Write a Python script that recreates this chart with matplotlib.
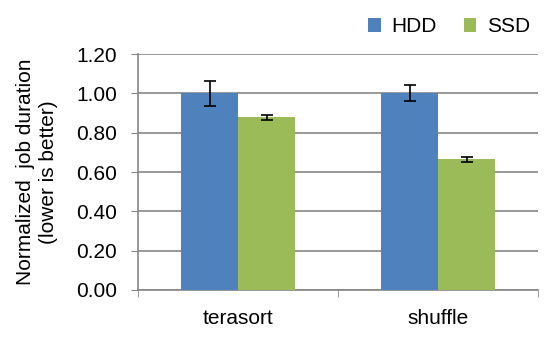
import matplotlib
matplotlib.use("Agg")
import matplotlib.pyplot as plt
import numpy as np

categories = ["terasort", "shuffle"]
hdd = [1.00, 1.00]
hdd_err = [0.065, 0.04]
ssd = [0.878, 0.665]
ssd_err = [0.013, 0.012]
yticks = [0.0, 0.2, 0.4, 0.6, 0.8, 1.0, 1.2]

plt.rcParams['font.family'] = ['Liberation Sans', 'DejaVu Sans']
FS = 15

fig = plt.figure(figsize=(5.44, 3.56), dpi=100)
ax = fig.add_axes([0.2537, 0.1854, 0.7353, 0.6629])

x = np.arange(len(categories))
w = 0.285
grid_c = '#868686'
ax.bar(x - w/2, hdd, w, color='#4F81BD', label='HDD', zorder=3,
       yerr=hdd_err, error_kw=dict(ecolor='black', capsize=4, elinewidth=1.2, capthick=1.2, zorder=4))
ax.bar(x + w/2, ssd, w, color='#9BBB59', label='SSD', zorder=3,
       yerr=ssd_err, error_kw=dict(ecolor='black', capsize=4, elinewidth=1.2, capthick=1.2, zorder=4))

ax.set_xlim(-0.5, 1.5)
ax.set_ylim(0, 1.2)
ax.set_yticks(yticks)
ax.set_yticklabels([f"{v:.2f}" for v in yticks], fontsize=FS)
ax.set_xticks(x)
ax.set_xticklabels(categories, fontsize=FS)
ax.set_xticks([-0.5, 0.5, 1.5], minor=True)
ax.tick_params(axis='x', which='major', length=0, pad=14)
ax.tick_params(axis='x', which='minor', length=5, color=grid_c, direction='out')
ax.tick_params(axis='y', length=5, color=grid_c, direction='out', pad=10)
ax.yaxis.grid(True, color=grid_c, linewidth=1.2, zorder=0)
ax.set_axisbelow(True)
for s in ['top', 'right']:
    ax.spines[s].set_visible(False)
for s in ['left', 'bottom']:
    ax.spines[s].set_color(grid_c)
    ax.spines[s].set_linewidth(1.2)

ax.set_ylabel("Normalized  job duration\n(lower is better)", fontsize=FS, labelpad=13,
              linespacing=1.3)

ax.legend(loc='lower right', bbox_to_anchor=(1.0, 1.04), ncol=2, frameon=False,
          fontsize=FS, handlelength=0.6, handleheight=0.6, handletextpad=0.5,
          columnspacing=1.3, borderaxespad=0)

fig.savefig("out.png", dpi=100)
